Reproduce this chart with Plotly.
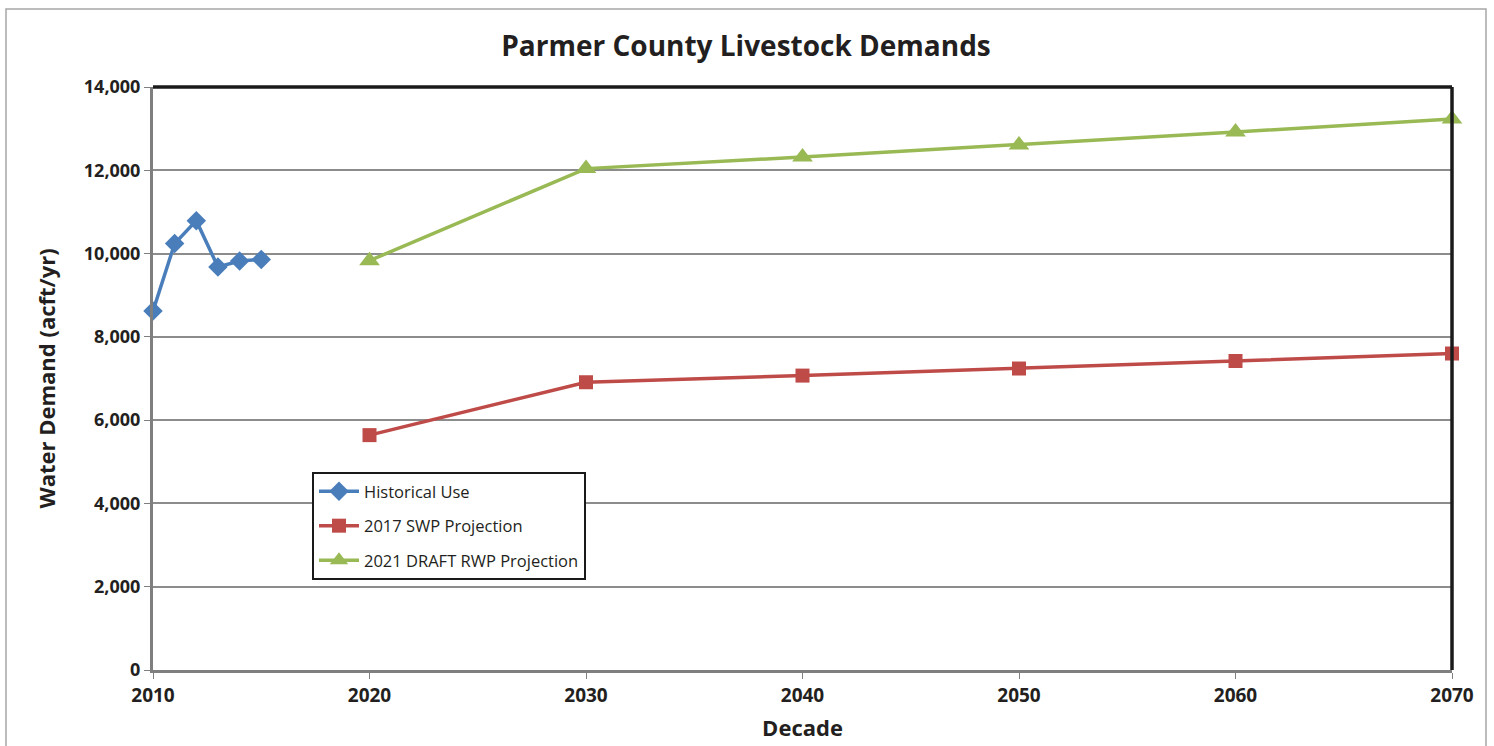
import plotly.graph_objects as go

hist_years = [2010, 2011, 2012, 2013, 2014, 2015]
hist_vals = [8620, 10240, 10790, 9680, 9820, 9860]

proj_years = [2020, 2030, 2040, 2050, 2060, 2070]
swp2017 = [5640, 6910, 7070, 7240, 7420, 7600]
rwp2021 = [9830, 12040, 12320, 12610, 12920, 13230]

x_ticks = [2010, 2020, 2030, 2040, 2050, 2060, 2070]
y_ticks = [0, 2000, 4000, 6000, 8000, 10000, 12000, 14000]

FONT = "Open Sans"

fig = go.Figure()
fig.add_trace(go.Scatter(x=hist_years, y=hist_vals, name="Historical Use", mode="lines+markers",
                         line=dict(color="#4A7EBB", width=3.5),
                         marker=dict(symbol="diamond", size=15, color="#4A7EBB"),
                         legendgroup="a", cliponaxis=False))
fig.add_trace(go.Scatter(x=proj_years, y=swp2017, name="2017 SWP Projection", mode="lines+markers",
                         line=dict(color="#BE4B48", width=3.5),
                         marker=dict(symbol="square", size=14, color="#BE4B48"),
                         legendgroup="b", cliponaxis=False))
fig.add_trace(go.Scatter(x=proj_years, y=rwp2021, name="2021 DRAFT RWP Projection", mode="lines+markers",
                         line=dict(color="#98B954", width=3.5),
                         marker=dict(symbol="triangle-up", size=18, color="#98B954"),
                         legendgroup="c", cliponaxis=False))

L, R, T, B = 153, 42, 87, 76
W, H = 1494, 746
pw = W - L - R
ph = H - T - B

fig.update_layout(
    width=W, height=H,
    margin=dict(l=L, r=R, t=T, b=B, autoexpand=False),
    paper_bgcolor="white", plot_bgcolor="white",
    font=dict(family=FONT, color="#231F20"),
    title=dict(text="<b>Parmer County Livestock Demands</b>", x=746 / W, xanchor="center",
               y=1 - 46 / H, yanchor="middle", font=dict(size=28, family=FONT, color="#231F20")),
    xaxis=dict(range=[2010, 2070], tickvals=x_ticks, ticktext=[f"<b>{v}</b>" for v in x_ticks],
               showgrid=False, zeroline=False, showline=True, linecolor="#7F7F7F", linewidth=3,
               ticks="outside", ticklen=6, tickcolor="#7F7F7F", tickfont=dict(size=19, family=FONT),
               automargin=False,
               title=dict(text="<b>Decade</b>", font=dict(size=22, family=FONT), standoff=14)),
    yaxis=dict(range=[0, 14000], tickvals=y_ticks, ticktext=[f"<b>{v:,}</b>" for v in y_ticks],
               showgrid=True, gridcolor="#8C8C8C", gridwidth=1.5, zeroline=False,
               showline=True, linecolor="#7F7F7F", linewidth=3,
               ticks="outside", ticklen=6, tickcolor="#7F7F7F", tickfont=dict(size=18, family=FONT),
               automargin=False,
               title=dict(text="<b>Water Demand (acft/yr)</b>", font=dict(size=22, family=FONT), standoff=23)),
    legend=dict(x=(312 - L) / pw, y=(H - B - 472) / ph, xanchor="left", yanchor="top",
                bgcolor="white", bordercolor="#1A1A1A", borderwidth=2,
                font=dict(size=16.5, family=FONT, color="#231F20"),
                tracegroupgap=10, itemwidth=40),
    showlegend=True,
)

# black frame on top and right of plot area
fig.add_shape(type="line", xref="paper", yref="paper", x0=0, x1=1, y0=1, y1=1,
              line=dict(color="#1A1A1A", width=3.5))
fig.add_shape(type="line", xref="paper", yref="paper", x0=1, x1=1, y0=0, y1=1,
              line=dict(color="#1A1A1A", width=3.5))
# outer chart border
fig.add_shape(type="rect", xref="paper", yref="paper",
              x0=(6 - L) / pw, x1=(1486 - L) / pw, y0=(H - B - 760) / ph, y1=(H - B - 9) / ph,
              line=dict(color="#A6A6A6", width=1.5), layer="below")

fig.write_html("out.html", config={"displayModeBar": False},
               post_script="document.body.style.margin='0';document.body.style.overflow='hidden';")
